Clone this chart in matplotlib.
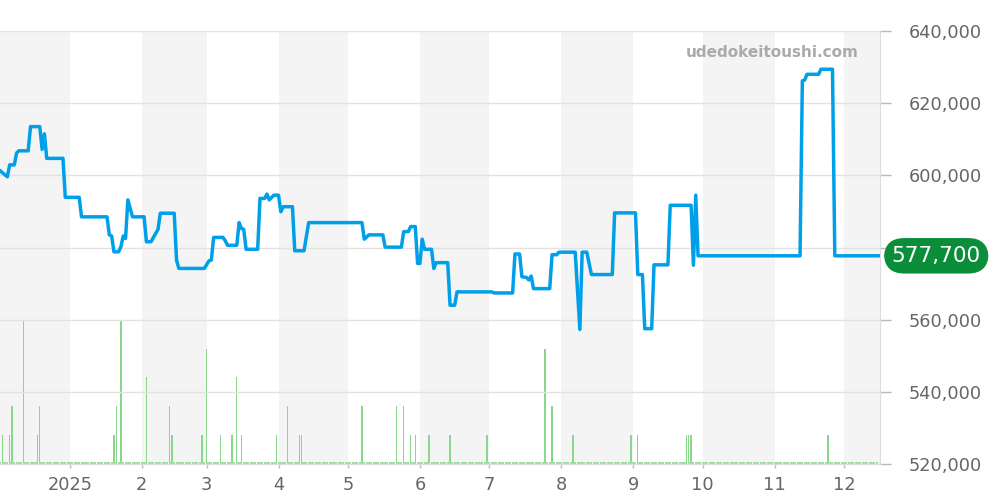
import matplotlib
matplotlib.use("Agg")
import matplotlib.pyplot as plt
import numpy as np
import pandas as pd

# ---- data ----
price_dates = [
    "2024-12-02", "2024-12-05", "2024-12-06", "2024-12-08", "2024-12-09", "2024-12-10",
    "2024-12-14", "2024-12-15", "2024-12-19", "2024-12-20", "2024-12-21", "2024-12-22",
    "2024-12-29", "2024-12-30", "2025-01-05", "2025-01-06", "2025-01-17", "2025-01-18",
    "2025-01-19", "2025-01-20", "2025-01-22", "2025-01-23", "2025-01-24", "2025-01-25",
    "2025-01-26", "2025-01-28", "2025-02-02", "2025-02-03", "2025-02-05", "2025-02-07",
    "2025-02-08", "2025-02-09", "2025-02-15", "2025-02-16", "2025-02-17", "2025-02-28",
    "2025-03-02", "2025-03-03", "2025-03-04", "2025-03-08", "2025-03-09", "2025-03-10",
    "2025-03-14", "2025-03-15", "2025-03-16", "2025-03-17", "2025-03-18", "2025-03-23",
    "2025-03-24", "2025-03-26", "2025-03-27", "2025-03-28", "2025-03-30", "2025-04-01",
    "2025-04-02", "2025-04-03", "2025-04-07", "2025-04-08", "2025-04-12", "2025-04-14",
    "2025-05-07", "2025-05-08", "2025-05-10", "2025-05-16", "2025-05-17", "2025-05-24",
    "2025-05-25", "2025-05-27", "2025-05-28", "2025-05-30", "2025-05-31", "2025-06-01",
    "2025-06-02", "2025-06-03", "2025-06-06", "2025-06-07", "2025-06-08", "2025-06-13",
    "2025-06-14", "2025-06-16", "2025-06-17", "2025-07-02", "2025-07-03", "2025-07-11",
    "2025-07-12", "2025-07-14", "2025-07-15", "2025-07-17", "2025-07-18", "2025-07-19",
    "2025-07-20", "2025-07-27", "2025-07-28", "2025-07-30", "2025-07-31", "2025-08-07",
    "2025-08-09", "2025-08-10", "2025-08-12", "2025-08-14", "2025-08-23", "2025-08-24",
    "2025-09-02", "2025-09-03", "2025-09-05", "2025-09-06", "2025-09-09", "2025-09-10",
    "2025-09-16", "2025-09-17", "2025-09-26", "2025-09-27", "2025-09-28", "2025-09-29",
    "2025-11-12", "2025-11-13", "2025-11-14", "2025-11-15", "2025-11-20", "2025-11-21",
    "2025-11-26", "2025-11-27", "2025-12-16",
]
price_values = [
    601200, 599600, 602900, 602900, 606200, 606800,
    606800, 613500, 613500, 607200, 611500, 604700,
    604700, 593900, 593900, 588500, 588500, 583500,
    583200, 578800, 578800, 580200, 583200, 582500,
    593200, 588500, 588500, 581600, 581600, 583900,
    585000, 589500, 589500, 576500, 574200, 574200,
    576300, 576500, 582800, 582800, 581900, 580600,
    580600, 586900, 585300, 585000, 579500, 579500,
    593600, 593600, 594800, 593200, 594500, 594500,
    589900, 591300, 591300, 579100, 579100, 586900,
    586900, 582300, 583500, 583500, 580100, 580100,
    584400, 584400, 585800, 585800, 575600, 575600,
    582300, 579500, 579500, 574200, 575800, 575800,
    564000, 564000, 567700, 567700, 567400, 567400,
    578200, 578200, 571900, 571700, 571000, 572100,
    568600, 568600, 578000, 578000, 578700, 578700,
    557300, 578700, 578700, 572500, 572500, 589600,
    589600, 572500, 572500, 557500, 557500, 575200,
    575200, 591700, 591700, 575100, 594500, 577700,
    577700, 626200, 626400, 628000, 628000, 629400,
    629400, 577700, 577700,
]

volume_dates = [
    "2024-12-03", "2024-12-06", "2024-12-07", "2024-12-12", "2024-12-18", "2024-12-19",
    "2025-01-20", "2025-01-21", "2025-01-23", "2025-02-03", "2025-02-13", "2025-02-14",
    "2025-02-27", "2025-03-01", "2025-03-07", "2025-03-12", "2025-03-14", "2025-03-16",
    "2025-03-31", "2025-04-05", "2025-04-10", "2025-04-11", "2025-05-07", "2025-05-22",
    "2025-05-25", "2025-05-28", "2025-05-30", "2025-06-05", "2025-06-14", "2025-06-30",
    "2025-07-25", "2025-07-28", "2025-08-06", "2025-08-31", "2025-09-03", "2025-09-24",
    "2025-09-25", "2025-09-26", "2025-11-24",
]
volume_values = [
    1, 1, 2, 5, 1, 2,
    1, 2, 5, 3, 2, 1,
    1, 4, 1, 1, 3, 1,
    1, 2, 1, 1, 2, 2,
    2, 1, 1, 1, 1, 1,
    4, 2, 1, 1, 1, 1,
    1, 1, 1,
]

month_labels = ["2025", "2", "3", "4", "5", "6", "7", "8", "9", "10", "11", "12"]
y_ticks = [520000, 540000, 560000, 580000, 600000, 620000, 640000]
last_price = 577700
watermark = "udedokeitoushi.com"

# ---- figure ----
fig = plt.figure(figsize=(10, 5), dpi=100)
rect = [0.0, 0.072, 0.88, 0.866]
axv = fig.add_axes(rect)              # background + volume
ax = fig.add_axes(rect, sharex=axv)   # price
ax.patch.set_visible(False)

xmin = pd.Timestamp("2024-12-01 20:00")
xmax = pd.Timestamp("2025-12-16 12:00")

# alternating month shading
month_edges = pd.date_range("2024-12-01", "2026-01-01", freq="MS")
for i in range(len(month_edges) - 1):
    if i % 2 == 0:
        axv.axvspan(month_edges[i], month_edges[i + 1], color="#f4f4f4", zorder=0, lw=0)

# volume bars
vd = pd.to_datetime(volume_dates)
axv.bar(vd, volume_values, width=0.6, color="#8ad68c", zorder=3, lw=0)
all_days = pd.date_range("2024-12-02", "2025-12-15", freq="D")
axv.scatter(all_days, np.full(len(all_days), 0.03), s=0.7, color="#9edc9e",
            marker="s", lw=0, zorder=3)
axv.set_ylim(0, 15)
axv.set_yticks([])
axv.tick_params(axis="x", bottom=False, labelbottom=False)
for s in axv.spines.values():
    s.set_visible(False)

# grid on price axis
for t in y_ticks:
    ax.axhline(t, color="#e2e2e2", lw=1, zorder=1)

ax.plot(pd.to_datetime(price_dates), price_values, color="#00a0e9", lw=2.5, zorder=5)

ax.set_xlim(xmin, xmax)
ax.set_ylim(520000, 640000)

ax.yaxis.tick_right()
ax.set_yticks(y_ticks)
# the 580,000 label is hidden behind the last-price badge in the reference
ax.set_yticklabels(["" if v == 580000 else f"{v:,}" for v in y_ticks])
ax.tick_params(axis="y", length=8, width=1, color="#bbbbbb", labelsize=12.8,
               labelcolor="#666666", pad=13)

month_ticks = pd.date_range("2025-01-01", "2025-12-01", freq="MS")
ax.set_xticks(month_ticks)
ax.set_xticklabels(month_labels)
ax.tick_params(axis="x", length=3, width=1, color="#bbbbbb", labelsize=12.8,
               labelcolor="#666666", pad=6)

for name, s in ax.spines.items():
    s.set_visible(False)
ax.spines["right"].set_visible(True)
ax.spines["right"].set_color("#dddddd")
ax.spines["bottom"].set_visible(True)
ax.spines["bottom"].set_color("#dddddd")

# last price label
ax.annotate(f"{last_price:,}", xy=(1.0, last_price), xycoords=("axes fraction", "data"),
            xytext=(40.5, 0), textcoords="offset points", ha="center", va="center",
            fontsize=15.5, color="white", zorder=10, annotation_clip=False,
            bbox=dict(boxstyle="round,pad=0.36,rounding_size=0.95", fc="#0b8e3a", ec="none"))

fig.text(0.772, 0.895, watermark, ha="center", va="center", fontsize=11,
         fontweight="bold", color="#aaaaaa")

fig.savefig("out.png", dpi=100)
